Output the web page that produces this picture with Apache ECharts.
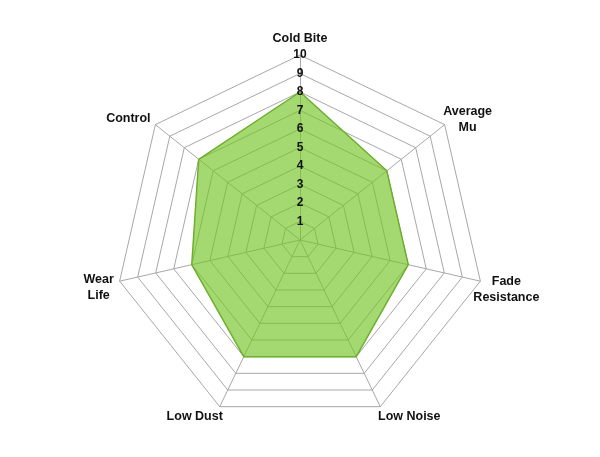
<!DOCTYPE html>
<html>
<head>
<meta charset="utf-8">
<script src="https://cdn.jsdelivr.net/npm/echarts@6/dist/echarts.min.js"></script>
<style>
html,body{margin:0;padding:0;background:#fff;}
#chart{width:600px;height:457px;}
</style>
</head>
<body>
<div id="chart"></div>
<script>
// Categories in clockwise order starting at the top
const categories = ['Cold Bite', 'Average\nMu', 'Fade\nResistance', 'Low Noise', 'Low Dust', 'Wear\nLife', 'Control'];
const values = [8, 6, 6, 7, 7, 6, 7];
const maxValue = 10;
const tickValues = [1, 2, 3, 4, 5, 6, 7, 8, 9, 10];

// Label nudges (text centre relative to the outer vertex), in px — layout only
const nameShift = [[0, -16], [23, -5], [26, 8], [29, 10], [-25, 10], [-21, 6.5], [-27, -6]];

// ECharts radar runs counter-clockwise; reorder so the picture reads clockwise
const n = categories.length;
const order = [0].concat(categories.map((_, i) => i).slice(1).reverse());

const FONT = '"Liberation Sans", Arial, sans-serif';
const CX = 300, CY = 240, R = 185;

// radial gap gives the vertical part of the nudge, horizontal padding the rest
function labelLayout(i) {
  const th = 2 * Math.PI * i / n;
  const ux = Math.sin(th), uy = -Math.cos(th);
  const dx = nameShift[i][0], dy = nameShift[i][1];
  const gap = Math.abs(uy) > 1e-6 ? dy / uy : 0;
  const rest = dx - gap * ux;
  return { gap: gap, padding: [0, rest < 0 ? -2 * rest : 0, 0, rest > 0 ? 2 * rest : 0] };
}

const chart = echarts.init(document.getElementById('chart'));
chart.setOption({
  animation: false,
  backgroundColor: '#fff',
  radar: {
    center: [CX, CY],
    radius: R,
    startAngle: 90,
    splitNumber: 10,
    shape: 'polygon',
    nameGap: 0,
    axisName: {
      color: '#111',
      fontFamily: FONT,
      fontWeight: 'bold',
      fontSize: 12.5,
      lineHeight: 16
    },
    axisLine: { lineStyle: { color: '#a8a8a8', width: 1 } },
    splitLine: { lineStyle: { color: '#a8a8a8', width: 1 } },
    splitArea: { show: false },
    axisTick: { show: false },
    axisLabel: { show: false },
    indicator: order.map(i => {
      const L = labelLayout(i);
      return {
        name: categories[i],
        max: maxValue,
        min: 0,
        nameGap: L.gap,
        nameTextStyle: {
          color: '#111',
          fontFamily: FONT,
          fontWeight: 'bold',
          fontSize: 12.5,
          lineHeight: 16,
          align: 'center',
          verticalAlign: 'middle',
          padding: L.padding
        }
      };
    })
  },
  polar: { center: [CX, CY], radius: R },
  angleAxis: { show: false, startAngle: 90, min: 0, max: 360 },
  radiusAxis: {
    type: 'value',
    min: 0, max: maxValue, interval: 1,
    z: 20,
    axisLine: { show: false },
    axisTick: { show: false },
    splitLine: { show: false },
    axisLabel: {
      showMinLabel: false,
      color: '#111',
      fontFamily: FONT,
      fontWeight: 'bold',
      fontSize: 12,
      margin: 0,
      align: 'center',
      verticalAlign: 'middle',
      formatter: v => tickValues.indexOf(v) >= 0 ? String(v) : ''
    }
  },
  series: [{
    type: 'radar',
    symbol: 'none',
    z: 2,
    data: [{
      value: order.map(i => values[i]),
      lineStyle: { color: '#6aa52d', width: 1.5 },
      areaStyle: { color: 'rgb(115,195,35)', opacity: 0.65 }
    }]
  }]
});
</script>
</body>
</html>
